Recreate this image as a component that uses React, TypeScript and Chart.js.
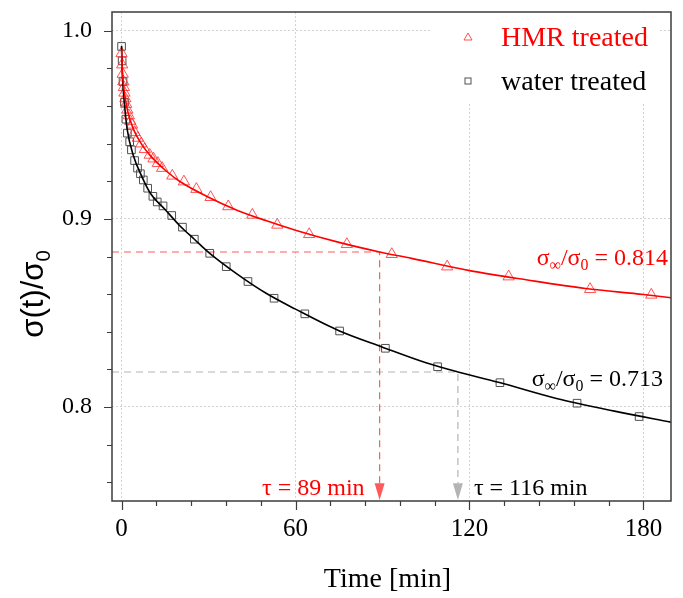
import React, { useEffect, useRef } from 'react';
import { Chart, registerables } from 'chart.js';
Chart.register(...registerables);

// ---------- data ----------
const hmrTime = [0, 0.2, 0.4, 0.6, 0.8, 1.0, 1.3, 1.6, 2.0, 2.5, 3.0, 3.6, 4.5, 5.6, 6.8, 8.0, 9.7, 11.0, 12.5, 14.0, 17.5, 21.5, 25.8, 30.7, 36.8, 45.1, 53.7, 64.7, 77.7, 93.2, 112.3, 133.5, 161.6, 182.7];
const hmrValue = [0.988, 0.982, 0.977, 0.973, 0.970, 0.967, 0.964, 0.961, 0.958, 0.955, 0.952, 0.950, 0.946, 0.943, 0.940, 0.937, 0.934, 0.932, 0.9296, 0.927, 0.9229, 0.9198, 0.9158, 0.9115, 0.9066, 0.9021, 0.8968, 0.8918, 0.8865, 0.8812, 0.8746, 0.8693, 0.8626, 0.8596];

const waterTime = [0, 0.2, 0.5, 1.0, 1.5, 2.0, 2.8, 3.4, 4.5, 5.5, 6.5, 7.5, 9.0, 10.8, 12.3, 14.3, 17.3, 21.0, 25.1, 30.4, 36.1, 43.6, 52.6, 63.2, 75.2, 91.0, 109.0, 130.5, 157.1, 178.5];
const waterValue = [0.9917, 0.984, 0.973, 0.962, 0.953, 0.9456, 0.941, 0.9367, 0.931, 0.927, 0.924, 0.9207, 0.9163, 0.912, 0.909, 0.9069, 0.9018, 0.8956, 0.8892, 0.8817, 0.8746, 0.8667, 0.8578, 0.8495, 0.8404, 0.8312, 0.8214, 0.8129, 0.8020, 0.7949];

const hmrFitTime = [0, 0.3, 1, 2, 4, 7, 10, 15, 20, 30, 40, 50, 60, 75, 89, 100, 120, 140, 160, 180, 190];
const hmrFitValue = [0.990, 0.978, 0.967, 0.958, 0.948, 0.9395, 0.9335, 0.926, 0.920, 0.9115, 0.9045, 0.899, 0.894, 0.8875, 0.8824, 0.879, 0.8725, 0.8675, 0.863, 0.8598, 0.858];

const waterFitTime = [0, 0.3, 1, 2, 4, 7, 10, 15, 20, 25, 30, 40, 50, 60, 75, 90, 105, 116, 130, 150, 170, 190];
const waterFitValue = [0.992, 0.976, 0.961, 0.947, 0.934, 0.9225, 0.9135, 0.905, 0.8965, 0.8893, 0.8822, 0.8705, 0.8603, 0.852, 0.8405, 0.8318, 0.8235, 0.8186, 0.8131, 0.8045, 0.7978, 0.7918];

const hmrSigmaInf = '0.814';
const waterSigmaInf = '0.713';
const hmrTau = 89;
const waterTau = 116;
const hmrAtTau = 0.8824;
const waterAtTau = 0.8186;

const xTickValues = [0, 12, 24, 36, 48, 60, 72, 84, 96, 108, 120, 132, 144, 156, 168, 180];
const xMajorTicks = [0, 60, 120, 180];
const yTickValues = [0.76, 0.78, 0.8, 0.82, 0.84, 0.86, 0.88, 0.9, 0.92, 0.94, 0.96, 0.98, 1.0];
const yMajorTicks = [0.8, 0.9, 1.0];

const seriesLabels = ['HMR treated', 'water treated'];
const xTitle = 'Time [min]';

const xMin = -3.3;
const xMax = 189.5;
const yMin = 0.75;
const yMax = 1.01;
const guideEnd = 0.7595;
const arrowTipValue = 0.7505;

// ---------- styles ----------
const SERIF = "'Liberation Serif', 'Times New Roman', serif";
const SANS = "'Liberation Sans', Arial, sans-serif";
const RED = '#ff0000';
const RED_MARK = 'rgba(255,40,40,0.8)';
const RED_GUIDE = '#ff5a5a';
const GRAY_GUIDE = '#b4b4b4';
const BLACK_MARK = '#505050';
const FRAME = '#3c3c3c';

type Part = { t: string; sub?: boolean };

function drawRich(ctx: CanvasRenderingContext2D, parts: Part[], x: number, y: number, size: number, family: string, color: string, align: 'left' | 'right' | 'center') {
  const subSize = size * 0.66;
  const widths = parts.map((p) => {
    ctx.font = `${p.sub ? subSize : size}px ${family}`;
    return ctx.measureText(p.t).width;
  });
  const total = widths.reduce((a, b) => a + b, 0);
  let cx = align === 'left' ? x : align === 'right' ? x - total : x - total / 2;
  ctx.fillStyle = color;
  ctx.textAlign = 'left';
  ctx.textBaseline = 'alphabetic';
  parts.forEach((p, i) => {
    ctx.font = `${p.sub ? subSize : size}px ${family}`;
    ctx.fillText(p.t, cx, y + (p.sub ? size * 0.22 : 0));
    cx += widths[i];
  });
}

const isYMajor = (v: number) => yMajorTicks.some((m) => Math.abs(m - v) < 1e-9);
const isXMajor = (v: number) => xMajorTicks.some((m) => Math.abs(m - v) < 1e-9);

const decorPlugin = {
  id: 'decor',
  beforeDatasetsDraw(chart: any) {
    const ctx: CanvasRenderingContext2D = chart.ctx;
    ctx.save();
    ctx.fillStyle = '#ffffff';
    ctx.fillRect(430, 13, 230, 90);
    ctx.restore();
  },
  afterDraw(chart: any) {
    const ctx: CanvasRenderingContext2D = chart.ctx;
    const { left, right, top, bottom } = chart.chartArea;
    const xs = chart.scales.x;
    const ys = chart.scales.y;
    ctx.save();

    // frame
    ctx.strokeStyle = FRAME;
    ctx.lineWidth = 1.5;
    ctx.strokeRect(left, top, right - left, bottom - top);

    // tick marks
    ctx.lineWidth = 1.2;
    ctx.beginPath();
    yTickValues.forEach((v) => {
      const py = Math.round(ys.getPixelForValue(v)) + 0.5;
      const len = isYMajor(v) ? 8 : 5;
      ctx.moveTo(left - len, py);
      ctx.lineTo(left, py);
    });
    xTickValues.forEach((v) => {
      const px = Math.round(xs.getPixelForValue(v)) + 0.5;
      const len = isXMajor(v) ? 9 : 5;
      ctx.moveTo(px, bottom);
      ctx.lineTo(px, bottom + len);
    });
    ctx.stroke();

    // arrowheads
    const arrow = (tau: number, color: string) => {
      const px = xs.getPixelForValue(tau);
      const y0 = ys.getPixelForValue(guideEnd);
      const y1 = ys.getPixelForValue(arrowTipValue);
      ctx.fillStyle = color;
      ctx.beginPath();
      ctx.moveTo(px - 5, y0);
      ctx.lineTo(px + 5, y0);
      ctx.lineTo(px, y1);
      ctx.closePath();
      ctx.fill();
    };
    arrow(hmrTau, RED_GUIDE);
    arrow(waterTau, GRAY_GUIDE);

    // tau labels
    const tauY = 495;
    drawRich(ctx, [{ t: `τ = ${hmrTau} min` }], xs.getPixelForValue(hmrTau) - 15, tauY, 24, SERIF, RED, 'right');
    drawRich(ctx, [{ t: `τ = ${waterTau} min` }], xs.getPixelForValue(waterTau) + 16, tauY, 24, SERIF, '#000', 'left');

    // sigma labels
    drawRich(ctx, [{ t: 'σ' }, { t: '∞', sub: true }, { t: '/σ' }, { t: '0', sub: true }, { t: ` = ${hmrSigmaInf}` }], right - 3, 265, 24, SERIF, RED, 'right');
    drawRich(ctx, [{ t: 'σ' }, { t: '∞', sub: true }, { t: '/σ' }, { t: '0', sub: true }, { t: ` = ${waterSigmaInf}` }], right - 8, 386, 24, SERIF, '#000', 'right');

    // legend
    ctx.lineWidth = 1;
    ctx.strokeStyle = RED_MARK;
    ctx.beginPath();
    ctx.moveTo(468, 33);
    ctx.lineTo(472, 40);
    ctx.lineTo(464, 40);
    ctx.closePath();
    ctx.stroke();
    ctx.strokeStyle = BLACK_MARK;
    ctx.strokeRect(465, 78, 6, 6);
    drawRich(ctx, [{ t: seriesLabels[0] }], 501, 46, 28, SERIF, RED, 'left');
    drawRich(ctx, [{ t: seriesLabels[1] }], 501, 90, 28, SERIF, '#000', 'left');

    // axis titles
    drawRich(ctx, [{ t: xTitle }], (left + right) / 2 - 4, 587, 28, SERIF, '#000', 'center');
    ctx.save();
    ctx.translate(43, 294);
    ctx.rotate(-Math.PI / 2);
    drawRich(ctx, [{ t: 'σ(t)/σ' }, { t: '0', sub: true }], 0, 0, 31, SANS, '#000', 'center');
    ctx.restore();

    ctx.restore();
  },
};

const toXY = (xsArr: number[], ysArr: number[]) => xsArr.map((x, i) => ({ x, y: ysArr[i] }));

export default function App() {
  const ref = useRef<HTMLCanvasElement | null>(null);
  useEffect(() => {
    if (!ref.current) return;
    const chart = new Chart(ref.current, {
      type: 'scatter',
      data: {
        datasets: [
          {
            label: 'HMR fit',
            data: toXY(hmrFitTime, hmrFitValue),
            showLine: true,
            borderColor: RED,
            borderWidth: 1.6,
            pointRadius: 0,
            cubicInterpolationMode: 'monotone',
            order: 0,
          } as any,
          {
            label: 'water fit',
            data: toXY(waterFitTime, waterFitValue),
            showLine: true,
            borderColor: '#000',
            borderWidth: 1.6,
            pointRadius: 0,
            cubicInterpolationMode: 'monotone',
            order: 0,
          },
          {
            label: seriesLabels[0],
            data: toXY(hmrTime, hmrValue),
            showLine: false,
            pointStyle: 'triangle',
            pointRadius: 6.5,
            pointBorderWidth: 1,
            pointBorderColor: RED_MARK,
            pointBackgroundColor: 'rgba(0,0,0,0)',
            order: 1,
          },
          {
            label: seriesLabels[1],
            data: toXY(waterTime, waterValue),
            showLine: false,
            pointStyle: 'rect',
            pointRadius: 5.4,
            pointBorderWidth: 1,
            pointBorderColor: BLACK_MARK,
            pointBackgroundColor: 'rgba(0,0,0,0)',
            order: 1,
          },
          {
            label: 'HMR tau guide',
            data: [
              { x: xMin, y: hmrAtTau },
              { x: hmrTau, y: hmrAtTau },
              { x: hmrTau, y: guideEnd },
            ],
            showLine: true,
            borderColor: RED_GUIDE,
            borderWidth: 1.2,
            borderDash: [7, 5],
            pointRadius: 0,
            order: 2,
          },
          {
            label: 'water tau guide',
            data: [
              { x: xMin, y: waterAtTau },
              { x: waterTau, y: waterAtTau },
              { x: waterTau, y: guideEnd },
            ],
            showLine: true,
            borderColor: GRAY_GUIDE,
            borderWidth: 1.2,
            borderDash: [7, 5],
            pointRadius: 0,
            order: 2,
          },
        ],
      },
      options: {
        animation: false,
        responsive: false,
        devicePixelRatio: 1,
        layout: { padding: { left: 0, right: 12, top: 12, bottom: 0 } },
        plugins: { legend: { display: false }, tooltip: { enabled: false } },
        scales: {
          x: {
            type: 'linear',
            min: xMin,
            max: xMax,
            afterBuildTicks: (s: any) => {
              s.ticks = xTickValues.map((v) => ({ value: v }));
            },
            afterFit: (s: any) => {
              s.height = 97;
              s.paddingLeft = 0;
              s.paddingRight = 0;
            },
            ticks: {
              autoSkip: false,
              maxRotation: 0,
              padding: 13,
              color: '#000',
              font: { family: SERIF, size: 25 },
              callback: (v: any) => (isXMajor(Number(v)) ? String(v) : ''),
            },
            grid: {
              drawTicks: false,
              lineWidth: 1,
              color: (c: any) => (c.tick && isXMajor(c.tick.value) ? '#d2d2d2' : 'rgba(0,0,0,0)'),
            },
            border: { display: false, dash: [2, 2] },
          },
          y: {
            type: 'linear',
            min: yMin,
            max: yMax,
            afterBuildTicks: (s: any) => {
              s.ticks = yTickValues.map((v) => ({ value: v }));
            },
            afterFit: (s: any) => {
              s.width = 112;
              s.paddingTop = 0;
              s.paddingBottom = 0;
            },
            ticks: {
              autoSkip: false,
              padding: 20,
              color: '#000',
              font: { family: SERIF, size: 24 },
              callback: (v: any) => (isYMajor(Number(v)) ? Number(v).toFixed(1) : ''),
            },
            grid: {
              drawTicks: false,
              lineWidth: 1,
              color: (c: any) => (c.tick && isYMajor(c.tick.value) ? '#d2d2d2' : 'rgba(0,0,0,0)'),
            },
            border: { display: false, dash: [2, 2] },
          },
        },
      },
      plugins: [decorPlugin],
    });
    return () => chart.destroy();
  }, []);

  return (
    <div style={{ position: 'fixed', left: 0, top: 0, width: 683, height: 598, background: '#fff' }}>
      <canvas ref={ref} width={683} height={598} style={{ width: 683, height: 598, display: 'block' }} />
    </div>
  );
}
